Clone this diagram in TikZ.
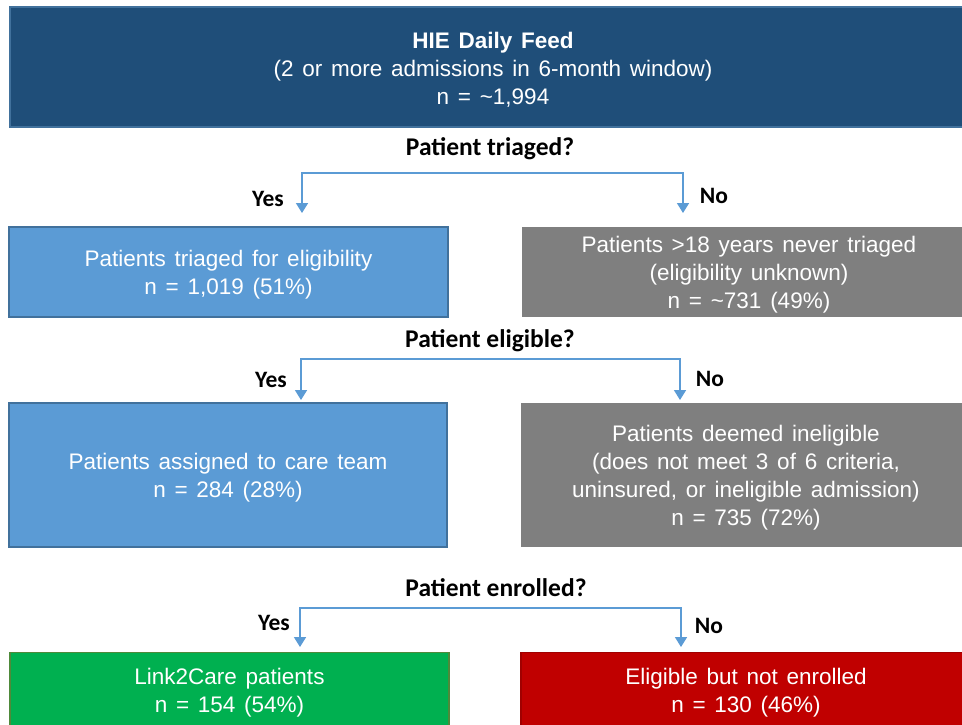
\documentclass[tikz,border=0pt]{standalone}
\usepackage{fontspec}
\setmainfont{Liberation Sans}[WordSpace=1.4]
\newfontfamily\lblfont{Carlito}
\usetikzlibrary{arrows.meta}
\definecolor{darkblue}{HTML}{1F4E79}
\definecolor{edgeblue}{HTML}{41719C}
\definecolor{lightblue}{HTML}{5B9BD5}
\definecolor{boxgray}{HTML}{7F7F7F}
\definecolor{boxgreen}{HTML}{00B050}
\definecolor{edgegreen}{HTML}{4E8A3A}
\definecolor{boxred}{HTML}{C00000}
\definecolor{edgered}{HTML}{A00000}
\newcommand{\topstrut}{\rule{0pt}{22pt}}
\begin{document}
\begin{tikzpicture}[x=1pt,y=-1pt,
  box/.style={rectangle, inner sep=0pt, align=center, text=white,
    font=\fontsize{22.5}{28}\selectfont, line width=2pt},
  qlabel/.style={font=\lblfont\bfseries\fontsize{25.5}{28}\selectfont, inner sep=0pt},
  yn/.style={font=\lblfont\bfseries\fontsize{23.5}{28}\selectfont, inner sep=0pt},
  conn/.style={draw=lightblue, line width=1.6pt,
    {Triangle[width=12pt,length=10pt]}-{Triangle[width=12pt,length=10pt]}}
]
\clip (0,0) rectangle (962,724);
\fill[white] (0,0) rectangle (962,724);

% top box
\node[box, fill=darkblue, draw=edgeblue, minimum width=966pt, minimum height=120pt] (top) at (493,67)
  {\topstrut\textbf{HIE Daily Feed}\\(2 or more admissions in 6-month window)\\n = \textasciitilde 1,994};

% row 1
\node[qlabel] (q1) at (490,149) {Patient triaged?};
\node[box, fill=lightblue, draw=edgeblue, minimum width=439pt, minimum height=90pt] (b2l) at (228.5,272)
  {\topstrut Patients triaged for eligibility\\n = 1,019 (51\%)};
\node[box, fill=boxgray, minimum width=454pt, minimum height=90pt] (b2r) at (749,272)
  {\topstrut Patients >18 years never triaged\\(eligibility unknown)\\n = \textasciitilde 731 (49\%)};
\node[yn] (y1) at (268,199) {Yes};
\node[yn] (n1) at (714,196) {No};
\coordinate (t1l) at (302,213);
\coordinate (t1r) at (683,213);
\draw[conn] (t1l) -- ++(0,-40) -| (t1r);

% row 2
\node[qlabel] (q2) at (490,341) {Patient eligible?};
\node[box, fill=lightblue, draw=edgeblue, minimum width=438pt, minimum height=144pt] (b3l) at (228,475)
  {\topstrut Patients assigned to care team\\n = 284 (28\%)};
\node[box, fill=boxgray, minimum width=450pt, minimum height=144pt] (b3r) at (746,475)
  {\topstrut Patients deemed ineligible\\(does not meet 3 of 6 criteria,\\uninsured, or ineligible admission)\\n = 735 (72\%)};
\node[yn] (y2) at (271,380) {Yes};
\node[yn] (n2) at (710,379) {No};
\coordinate (t2l) at (301,400);
\coordinate (t2r) at (680,400);
\draw[conn] (t2l) -- ++(0,-41) -| (t2r);

% row 3
\node[qlabel] (q3) at (496,588) {Patient enrolled?};
\node[box, fill=boxgreen, draw=edgegreen, line width=1.5pt, minimum width=439pt, minimum height=75pt] (b4l) at (229.5,690)
  {\topstrut Link2Care patients\\n = 154 (54\%)};
\node[box, fill=boxred, draw=edgered, line width=1.5pt, minimum width=450pt, minimum height=75pt] (b4r) at (746,690)
  {\topstrut Eligible but not enrolled\\n = 130 (46\%)};
\node[yn] (y3) at (274,623) {Yes};
\node[yn] (n3) at (709,626) {No};
\coordinate (t3l) at (300,647);
\coordinate (t3r) at (681,647);
\draw[conn] (t3l) -- ++(0,-39) -| (t3r);
\end{tikzpicture}
\end{document}
